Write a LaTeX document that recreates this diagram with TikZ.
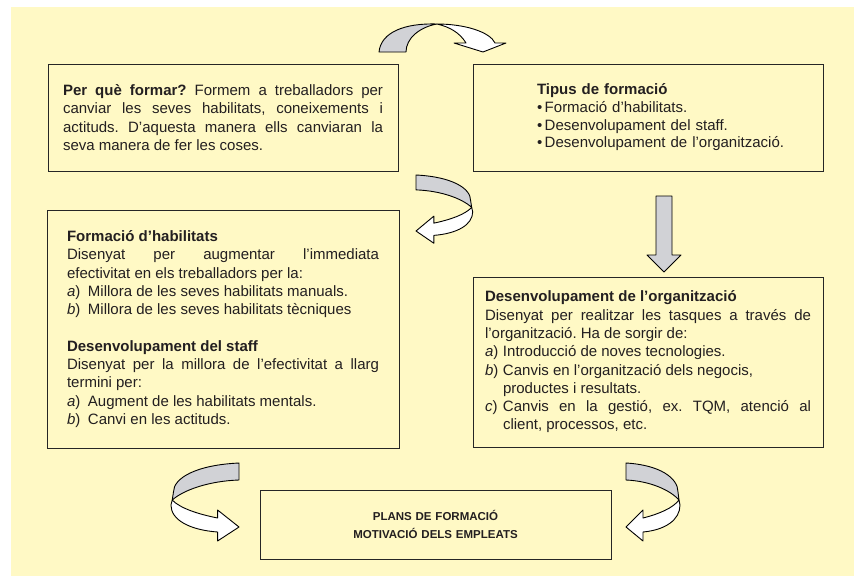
\documentclass[tikz,border=0pt]{standalone}
\usepackage{fontspec}
\setmainfont{Liberation Sans}
\frenchspacing
\definecolor{paper}{RGB}{255,249,197}
\definecolor{flapgrey}{RGB}{209,210,214}
\definecolor{ink}{RGB}{35,31,32}
\newcommand{\itm}[2][21pt]{\makebox[#1][l]{\textit{#2})}}
\begin{document}
\begin{tikzpicture}[x=1pt, y=-1pt,
    box/.style={draw=black!85, line width=1pt, fill=paper, text=ink, minimum width=350pt,
        inner xsep=15pt, text width=320pt, align=justify, font=\fontsize{15}{18.3}\selectfont},
    flap/.style={draw=black, line width=0.9pt, fill=flapgrey, line join=round},
    face/.style={draw=black, line width=0.9pt, fill=white, line join=round},
    bend arrow/.pic={
        \filldraw[flap] (0,0) .. controls (34,2) and (52,15) .. (52,29) -- (53,37)
            .. controls (44,27) and (24,18) .. (0,17) -- cycle;
        \filldraw[face] (53,37) -- (54,42) .. controls (54,57) and (39,67) .. (17,69)
            -- (17,78) -- (0,64) -- (17,47) -- (17,55) .. controls (33,51) and (47,45) .. (53,37) -- cycle;
    }]
    \useasboundingbox (0,0) rectangle (854,576);
    \fill[paper] (11,7) rectangle (854,576);

    % boxes
    \node[box, minimum height=107pt] (perque) at (223,117.5) {\textbf{Per què formar?} Formem a treballadors per\linebreak
        canviar les seves habilitats, coneixements i\linebreak
        actituds. D’aquesta manera ells canviaran la\linebreak
        seva manera de fer les coses.};
    \node[box, align=left, minimum height=107pt, font=\fontsize{15}{17.7}\selectfont] (tipus) at (648,117.5) {\leftskip=49pt
        \textbf{Tipus de formació}\\
        •\,Formació d’habilitats.\\
        •\,Desenvolupament del staff.\\
        •\,Desenvolupament de l’organització.\par};
    \node[box, minimum width=352pt, inner xsep=20pt, text width=312pt, minimum height=238pt] (habstaff) at (223,329) {\textbf{Formació d’habilitats}\\
        Disenyat per augmentar l’immediata\linebreak
        efectivitat en els treballadors per la:\\
        \itm{a}Millora de les seves habilitats manuals.\\
        \itm{b}Millora de les seves habilitats tècniques\\[18.3pt]
        \textbf{Desenvolupament del staff}\\
        Disenyat per la millora de l’efectivitat a llarg\linebreak
        termini per:\\
        \itm{a}Augment de les habilitats mentals.\\
        \itm{b}Canvi en les actituds.};
    \node[box, inner xsep=11pt, text width=326pt, minimum width=350pt, minimum height=170pt] (organitz) at (648,362) {\textbf{Desenvolupament de l’organització}\\
        Disenyat per realitzar les tasques a través de\linebreak
        l’organització. Ha de sorgir de:\\
        \itm[18pt]{a}Introducció de noves tecnologies.\\
        \itm[18pt]{b}Canvis en l’organització dels negocis,\\
        \hspace*{18pt}productes i resultats.\\
        \itm[18pt]{c}Canvis en la gestió, ex. TQM, atenció al\linebreak
        \hspace*{18pt}client, processos, etc.};
    \node[box, align=center, minimum width=351pt, minimum height=69pt,
        font=\fontsize{11.5}{18}\selectfont\bfseries] (plans) at (435.5,524.5) {PLANS DE FORMACIÓ\\MOTIVACIÓ DELS EMPLEATS};

    % arrows
    \filldraw[flap] (379,52) .. controls (381,32) and (405,23) .. (437,24)
        .. controls (420,27) and (406,38) .. (406,52) -- cycle;
    \filldraw[face] (437,24) .. controls (465,24) and (490,32) .. (495,43) -- (506,43) -- (483,52)
        -- (454,43) -- (466,43) .. controls (460,33) and (450,27) .. (437,24) -- cycle;
    \pic[xscale=1.05, yscale=0.875] at (416,175) {bend arrow};
    \filldraw[flap] (656,196) -- (672,196) -- (672,255) -- (681,255) -- (664,272) -- (647,255) -- (656,255) -- cycle;
    \pic[xscale=-1.26] at (239,463) {bend arrow};
    \pic at (626,463) {bend arrow};
\end{tikzpicture}
\end{document}
